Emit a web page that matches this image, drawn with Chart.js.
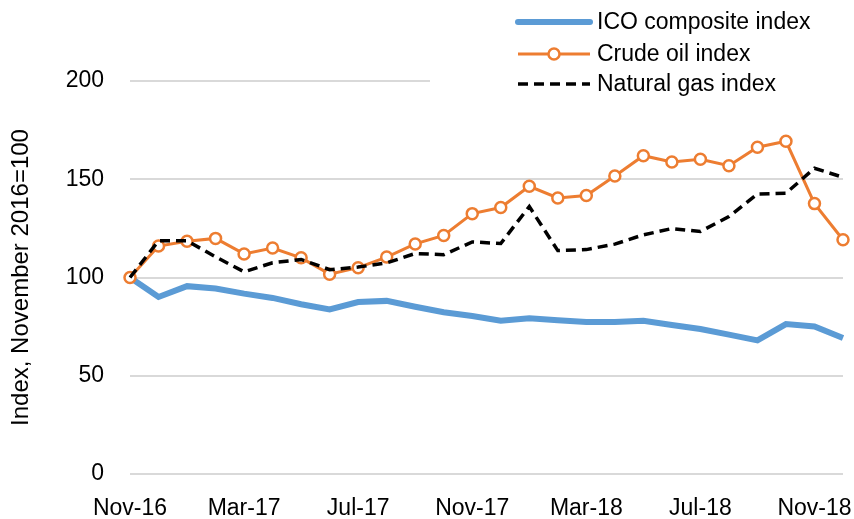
<!DOCTYPE html>
<html>
<head>
<meta charset="utf-8">
<script src="https://cdn.jsdelivr.net/npm/chart.js@4/dist/chart.umd.min.js"></script>
<style>
  html, body { margin: 0; padding: 0; background: #fff; }
  #wrap { width: 854px; height: 519px; }
</style>
</head>
<body>
<div id="wrap"><canvas id="chart" width="854" height="519"></canvas></div>
<script>
/* ---------- DATA ---------- */

const months = [
  'Nov-16', 'Dec-16', 'Jan-17', 'Feb-17', 'Mar-17', 'Apr-17', 'May-17', 'Jun-17',
  'Jul-17', 'Aug-17', 'Sep-17', 'Oct-17', 'Nov-17', 'Dec-17', 'Jan-18', 'Feb-18',
  'Mar-18', 'Apr-18', 'May-18', 'Jun-18', 'Jul-18', 'Aug-18', 'Sep-18', 'Oct-18',
  'Nov-18', 'Dec-18'
];

const icoIndex = [
  100, 90.1, 95.6, 94.4, 91.8, 89.6, 86.4, 83.8, 87.5, 88.1, 85.1, 82.3, 80.4,
  78.0, 79.2, 78.2, 77.4, 77.3, 78.0, 75.8, 73.8, 70.9, 68.0, 76.3, 75.1, 69.2
];

const crudeIndex = [
  100, 116.0, 118.4, 119.9, 112.0, 115.0, 110.0, 101.7, 105.0, 110.4, 117.1, 121.4, 132.5,
  135.6, 146.4, 140.5, 141.7, 151.7, 162.0, 158.8, 160.2, 156.9, 166.3, 169.3, 137.6, 119.2
];

const gasIndex = [
  100, 118.7, 118.7, 110.5, 102.9, 107.5, 109.2, 104.0, 105.3, 107.4, 112.2, 111.6, 118.1,
  117.3, 136.1, 113.7, 114.2, 117.0, 121.7, 124.9, 123.4, 131.0, 142.5, 142.9, 155.6, 151.0
];

const seriesNames = ['ICO composite index', 'Crude oil index', 'Natural gas index'];
const yTicks = [0, 50, 100, 150, 200];
const yTitle = 'Index, November 2016=100';

/* ---------- STYLE ---------- */

const FONT = "'Liberation Sans', Arial, sans-serif";
const BLUE = '#5b9bd5';
const ORANGE = '#ed7d31';
const GRID = '#d9d9d9';

/* ---------- LEGEND (vertical list, top right) ---------- */

const sideLegend = {
  id: 'sideLegend',
  afterDraw(chart) {
    const ctx = chart.ctx;
    ctx.save();
    // legend box background hides the top gridline behind it
    ctx.fillStyle = '#fff';
    ctx.fillRect(430, 0, 424, 100);

    const x0 = 518, x1 = 590, tx = 597;
    const rows = [22, 54, 84];
    const sets = chart.data.datasets;

    rows.forEach((y, i) => {
      const ds = sets[i];
      ctx.beginPath();
      ctx.strokeStyle = ds.borderColor;
      ctx.lineWidth = ds.borderWidth;
      ctx.lineCap = i === 0 ? 'round' : 'butt';
      ctx.setLineDash(ds.borderDash || []);
      ctx.moveTo(x0, y);
      ctx.lineTo(x1, y);
      ctx.stroke();
      ctx.setLineDash([]);

      if (ds.pointRadius) {
        ctx.beginPath();
        ctx.arc((x0 + x1) / 2, y, ds.pointRadius, 0, Math.PI * 2);
        ctx.fillStyle = ds.pointBackgroundColor;
        ctx.fill();
        ctx.lineWidth = ds.pointBorderWidth;
        ctx.strokeStyle = ds.pointBorderColor;
        ctx.stroke();
      }

      ctx.fillStyle = '#000';
      ctx.font = '23px ' + FONT;
      ctx.textBaseline = 'middle';
      ctx.textAlign = 'left';
      ctx.fillText(seriesNames[i], tx, y + 1);
    });
    ctx.restore();
  }
};

/* ---------- CHART ---------- */

new Chart(document.getElementById('chart'), {
  type: 'line',
  data: {
    labels: months,
    datasets: [
      {
        label: seriesNames[0],
        data: icoIndex,
        borderColor: BLUE,
        borderWidth: 6,
        pointRadius: 0,
        tension: 0,
        order: 2
      },
      {
        label: seriesNames[1],
        data: crudeIndex,
        borderColor: ORANGE,
        borderWidth: 3,
        pointRadius: 5.5,
        pointBorderWidth: 2.5,
        pointBackgroundColor: '#fff',
        pointBorderColor: ORANGE,
        tension: 0,
        order: 1
      },
      {
        label: seriesNames[2],
        data: gasIndex,
        borderColor: '#000',
        borderWidth: 3.5,
        borderDash: [10, 6],
        pointRadius: 0,
        tension: 0,
        order: 0
      }
    ]
  },
  options: {
    responsive: false,
    animation: false,
    devicePixelRatio: 1,
    layout: { padding: { top: 81, right: 11, left: 0, bottom: 0 } },
    plugins: {
      legend: { display: false },
      tooltip: { enabled: false }
    },
    scales: {
      x: {
        offset: false,
        grid: { display: false, drawTicks: false, tickLength: 0 },
        border: { display: false },
        ticks: {
          autoSkip: false,
          maxRotation: 0,
          padding: 10,
          color: '#000',
          font: { family: FONT, size: 23, lineHeight: 2.15 },
          callback: (v, i) => (i % 4 === 0 ? months[i] : '')
        },
        afterFit: s => { s.height = 45; }
      },
      y: {
        min: yTicks[0],
        max: yTicks[yTicks.length - 1],
        afterBuildTicks: s => { s.ticks = yTicks.map(v => ({ value: v })); },
        grid: { color: GRID, lineWidth: 2, drawTicks: false },
        border: { display: false },
        ticks: {
          padding: 26,
          color: '#000',
          font: { family: FONT, size: 23 }
        },
        title: {
          display: true,
          text: yTitle,
          color: '#000',
          font: { family: FONT, size: 24 },
          padding: { top: 7, bottom: 0 }
        },
        afterFit: s => { s.width = 130; }
      }
    }
  },
  plugins: [sideLegend]
});
</script>
</body>
</html>
